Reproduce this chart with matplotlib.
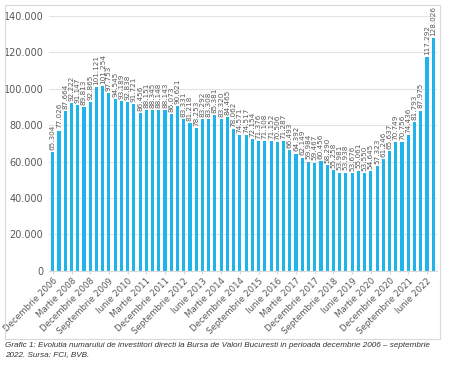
import matplotlib.pyplot as plt
from matplotlib.patches import Rectangle

values = [65304, 77026, 87664, 92222, 91147, 89813, 92865, 101121, 101254, 97753,
          94545, 93189, 92838, 91721, 86456, 88151, 88345, 88148, 88143, 86073,
          90621, 83331, 81218, 78253, 83292, 83308, 85381, 83320, 84465, 78062,
          74571, 74517, 72154, 71376, 71108, 71152, 70506, 71287, 66493, 64392,
          62149, 59984, 59467, 60456, 58290, 55258, 53981, 53938, 53676, 55061,
          53550, 54645, 57323, 61246, 65637, 70749, 70756, 74436, 81793, 87975,
          117292, 128026]

tick_labels = ["Decembrie 2006", "Martie 2008", "Decembrie 2008", "Septembrie 2009",
               "Iunie 2010", "Martie 2011", "Decembrie 2011", "Septembrie 2012",
               "Iunie 2013", "Martie 2014", "Decembrie 2014", "Septembrie 2015",
               "Iunie 2016", "Martie 2017", "Decembrie 2017", "Septembrie 2018",
               "Iunie 2019", "Martie 2020", "Decembrie 2020", "Septembrie 2021",
               "Iunie 2022"]

caption = ("Grafic 1: Evolutia numarului de investitori directi la Bursa de Valori "
           "Bucuresti in perioada decembrie 2006 \u2013 septembrie\n2022. Sursa: FCI, BVB.")


def fmt(v):
    return f"{v:,}".replace(",", ".")


fig = plt.figure(figsize=(4.5, 3.71), dpi=100)
ax = fig.add_axes([0.109, 0.27, 0.862, 0.687])

x = list(range(len(values)))
ax.bar(x, values, width=0.5, color="#20b4ec", zorder=2)

for xi, v in zip(x, values):
    ax.text(xi, v + 1200, fmt(v), rotation=90, ha="center", va="bottom",
            fontsize=5.2, color="#595959")

ax.set_ylim(0, 140000)
ax.set_xlim(-0.6, len(values) - 0.4)
yt = list(range(0, 140001, 20000))
ax.set_yticks(yt)
ax.set_yticklabels([fmt(v) for v in yt], fontsize=7, color="#595959")
ax.set_xticks(x[::3])
ax.set_xticklabels(tick_labels, rotation=45, ha="right", rotation_mode="anchor",
                   fontsize=6.2, color="#595959")
ax.tick_params(axis="y", length=0, pad=4)
ax.tick_params(axis="x", length=2, color="#d9d9d9", pad=2)
ax.grid(axis="y", color="#e3e3e3", linewidth=0.8, zorder=0)
for s in ["top", "right", "left"]:
    ax.spines[s].set_visible(False)
ax.spines["bottom"].set_color("#d9d9d9")

fig.patches.append(Rectangle((5 / 450, 1 - 339 / 371), 435 / 450, 334 / 371,
                             transform=fig.transFigure, fill=False,
                             edgecolor="#d9d9d9", linewidth=0.8))

fig.text(5 / 450, 1 - 342 / 371, caption, ha="left", va="top", fontsize=5.9,
         family="Liberation Sans", style="italic", color="#333333", linespacing=1.5)

fig.savefig("out.png", dpi=100)
